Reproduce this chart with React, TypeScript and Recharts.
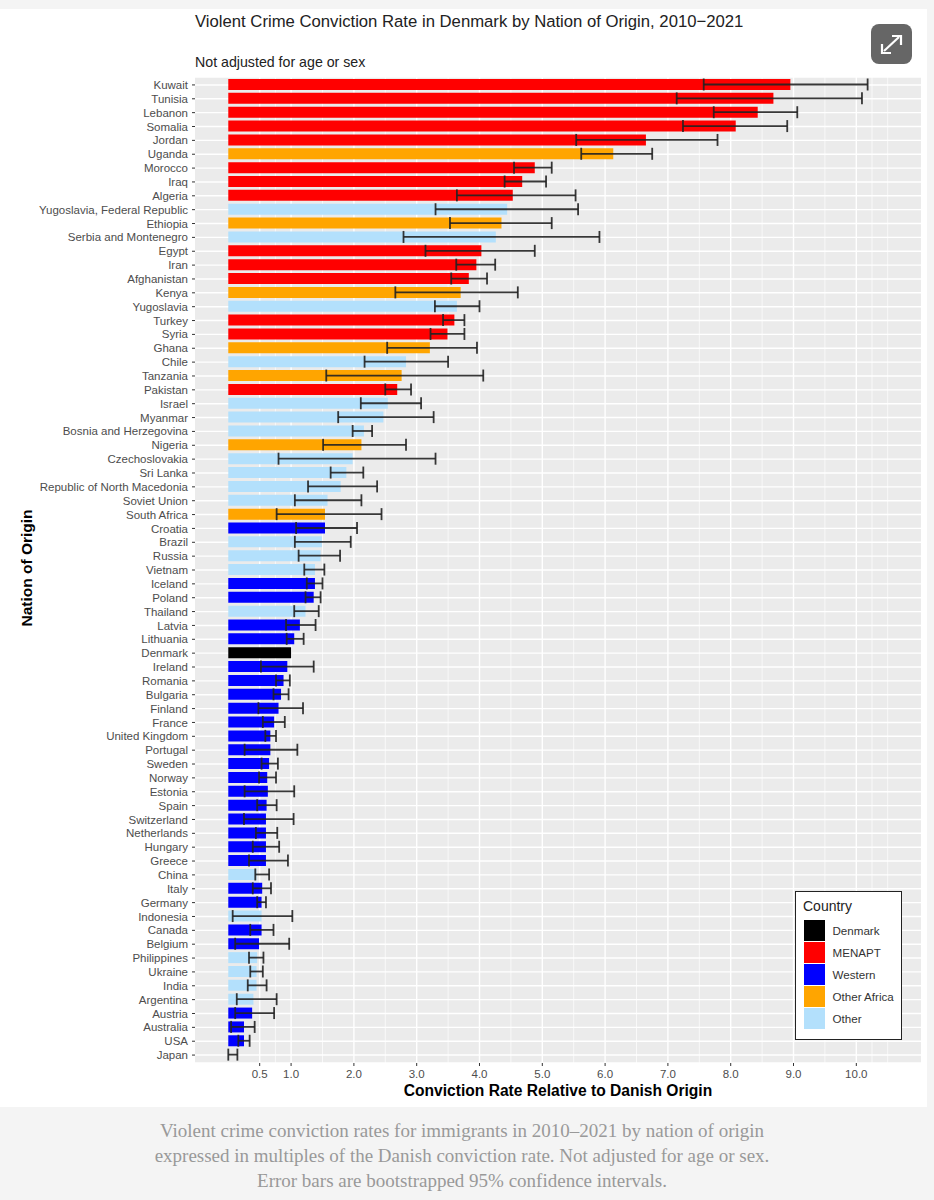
import { Bar, BarChart, CartesianGrid, Cell, ErrorBar, XAxis, YAxis } from "recharts";

const M = "MENAPT";
const W = "Western";
const A = "Other Africa";
const O = "Other";
const D = "Denmark";

const nations = [
  "Kuwait", "Tunisia", "Lebanon", "Somalia", "Jordan", "Uganda", "Morocco", "Iraq", "Algeria",
  "Yugoslavia, Federal Republic", "Ethiopia", "Serbia and Montenegro", "Egypt", "Iran", "Afghanistan",
  "Kenya", "Yugoslavia", "Turkey", "Syria", "Ghana", "Chile", "Tanzania", "Pakistan", "Israel", "Myanmar",
  "Bosnia and Herzegovina", "Nigeria", "Czechoslovakia", "Sri Lanka", "Republic of North Macedonia",
  "Soviet Union", "South Africa", "Croatia", "Brazil", "Russia", "Vietnam", "Iceland", "Poland", "Thailand",
  "Latvia", "Lithuania", "Denmark", "Ireland", "Romania", "Bulgaria", "Finland", "France", "United Kingdom",
  "Portugal", "Sweden", "Norway", "Estonia", "Spain", "Switzerland", "Netherlands", "Hungary", "Greece",
  "China", "Italy", "Germany", "Indonesia", "Canada", "Belgium", "Philippines", "Ukraine", "India",
  "Argentina", "Austria", "Australia", "USA", "Japan",
];

const groups = [
  M, M, M, M, M, A, M, M, M,
  O, A, O, M, M, M,
  A, O, M, M, A, O, A, M, O, O,
  O, A, O, O, O,
  O, A, W, O, O, O, W, W, O,
  W, W, D, W, W, W, W, W, W,
  W, W, W, W, W, W, W, W, W,
  O, W, W, O, W, W, O, O, O,
  O, W, W, W, O,
];

const rates = [
  8.95, 8.68, 8.43, 8.08, 6.65, 6.13, 4.88, 4.68, 4.53,
  4.44, 4.35, 4.26, 4.03, 3.95, 3.83,
  3.70, 3.64, 3.60, 3.49, 3.21, 2.83, 2.76, 2.69, 2.54, 2.47,
  2.16, 2.12, 1.98, 1.88, 1.79,
  1.58, 1.54, 1.54, 1.49, 1.47, 1.38, 1.38, 1.36, 1.23,
  1.14, 1.05, 1.0, 0.94, 0.88, 0.84, 0.80, 0.73, 0.67,
  0.67, 0.65, 0.62, 0.63, 0.61, 0.60, 0.60, 0.60, 0.60,
  0.45, 0.54, 0.53, 0.53, 0.53, 0.49, 0.46, 0.45, 0.45,
  0.40, 0.38, 0.25, 0.25, 0.01,
];

const lows = [
  7.57, 7.14, 7.73, 7.24, 5.54, 5.62, 4.55, 4.40, 3.64,
  3.30, 3.53, 2.79, 3.14, 3.63, 3.55,
  2.66, 3.29, 3.42, 3.22, 2.53, 2.17, 1.56, 2.50, 2.11, 1.75,
  1.98, 1.51, 0.80, 1.63, 1.27,
  1.06, 0.77, 1.08, 1.06, 1.12, 1.21, 1.25, 1.23, 1.05,
  0.92, 0.93, null, 0.52, 0.76, 0.72, 0.48, 0.55, 0.59,
  0.26, 0.53, 0.49, 0.26, 0.46, 0.25, 0.44, 0.39, 0.33,
  0.43, 0.39, 0.46, 0.07, 0.35, 0.11, 0.33, 0.35, 0.31,
  0.135, 0.11, 0.045, 0.16, 0,
];

const highs = [
  10.18, 10.09, 9.06, 8.90, 7.79, 6.75, 5.15, 5.06, 5.53,
  5.57, 5.15, 5.91, 4.88, 4.25, 4.12,
  4.61, 4.00, 3.76, 3.76, 3.96, 3.50, 4.06, 2.91, 3.07, 3.27,
  2.29, 2.83, 3.30, 2.15, 2.37,
  2.12, 2.44, 2.05, 1.95, 1.78, 1.53, 1.50, 1.47, 1.44,
  1.39, 1.20, null, 1.36, 0.98, 0.96, 1.19, 0.90, 0.76,
  1.10, 0.79, 0.76, 1.05, 0.77, 1.04, 0.78, 0.81, 0.95,
  0.65, 0.68, 0.60, 1.02, 0.72, 0.97, 0.56, 0.55, 0.61,
  0.77, 0.73, 0.42, 0.34, 0.145,
];

const xTicks = [0.5, 1, 2, 3, 4, 5, 6, 7, 8, 9, 10];
const xMinor = [0.75, 1.5, 2.5, 3.5, 4.5, 5.5, 6.5, 7.5, 8.5, 9.5, 10.25, 10.5];

const legendOrder = [D, M, W, A, O];
const colors: Record<string, string> = {
  [D]: "#000000",
  [M]: "#FF0000",
  [W]: "#0000FF",
  [A]: "#FFA500",
  [O]: "#B3E0FC",
};

const captionLines = [
  "Violent crime conviction rates for immigrants in 2010\u20132021 by nation of origin",
  "expressed in multiples of the Danish conviction rate. Not adjusted for age or sex.",
  "Error bars are bootstrapped 95% confidence intervals.",
];

const data = nations.map((nation, i) => ({
  nation,
  group: groups[i],
  rate: rates[i],
  low: lows[i],
  high: highs[i],
}));

const errorRange = (d: any) => (d.low == null ? null : [d.rate - d.low, d.high - d.rate]);

const sans = "'Liberation Sans', Arial, sans-serif";

const CountryLegend = () => (
  <div
    style={{
      position: "absolute",
      left: 795,
      top: 891,
      width: 104.5,
      height: 146.5,
      border: "1.5px solid #222",
      background: "#fff",
      fontFamily: sans,
    }}
  >
    <div style={{ position: "absolute", left: 7, top: 6, fontSize: 14, color: "#222" }}>Country</div>
    {legendOrder.map((g, i) => (
      <div key={g} style={{ position: "absolute", left: 7.5, top: 28 + i * 22, height: 21, width: 95 }}>
        <div style={{ position: "absolute", left: 0, top: 0, width: 21, height: 21, background: colors[g] }} />
        <div style={{ position: "absolute", left: 29, top: 4, fontSize: 11.6, color: "#333", whiteSpace: "nowrap" }}>{g}</div>
      </div>
    ))}
  </div>
);

const ExpandButton = () => (
  <svg width={41} height={40} style={{ position: "absolute", left: 871, top: 24 }}>
    <rect width={41} height={40} rx={8} fill="#666666" />
    <g stroke="#fff" strokeWidth={2.2} fill="none">
      <path d="M13 27 L28 13" />
      <path d="M21 12 L30 12 L30 21" />
      <path d="M11 20 L11 29 L20 29" />
    </g>
  </svg>
);

export default function App() {
  return (
    <div style={{ position: "absolute", left: 0, top: 0, width: 934, height: 1200, background: "#F4F4F4", overflow: "hidden" }}>
      <div style={{ position: "absolute", left: 0, top: 9, width: 927, height: 1098, background: "#fff" }} />
      <div style={{ position: "absolute", left: 195, top: 12, fontFamily: sans, fontSize: 16.7, color: "#222", whiteSpace: "nowrap" }}>
        Violent Crime Conviction Rate in Denmark by Nation of Origin, 2010{"\u2212"}2021
      </div>
      <div style={{ position: "absolute", left: 195, top: 54, fontFamily: sans, fontSize: 14.2, color: "#222", whiteSpace: "nowrap" }}>
        Not adjusted for age or sex
      </div>
      <div style={{ position: "absolute", left: 0, top: 0 }}>
        <BarChart
          width={934}
          height={1107}
          data={data}
          layout="vertical"
          margin={{ top: 77, right: 13, left: 0, bottom: 0 }}
        >
          <CartesianGrid fill="#EBEBEB" stroke="#fff" strokeWidth={1.4} verticalValues={xTicks} />
          <CartesianGrid fill="none" stroke="#fff" strokeWidth={0.7} horizontal={false} verticalValues={xMinor} />
          <XAxis
            type="number"
            domain={[-0.53, 11.03]}
            allowDataOverflow
            ticks={xTicks}
            interval={0}
            tickFormatter={(v: number) => v.toFixed(1)}
            tickSize={3}
            tickMargin={4}
            axisLine={false}
            tickLine={{ stroke: "#333" }}
            tick={{ fontSize: 11.5, fill: "#4D4D4D", fontFamily: sans }}
            height={44}
            label={{
              value: "Conviction Rate Relative to Danish Origin",
              position: "insideBottom",
              offset: 11,
              dx: 0,
              style: { fontSize: 15.6, fontWeight: 700, fill: "#000", fontFamily: sans },
            }}
          />
          <YAxis
            type="category"
            dataKey="nation"
            width={195}
            interval={0}
            tickSize={3}
            tickMargin={4}
            axisLine={false}
            tickLine={{ stroke: "#333" }}
            tick={{ fontSize: 11.5, fill: "#4D4D4D", fontFamily: sans }}
            padding={{ top: 1, bottom: 1 }}
            label={{
              value: "Nation of Origin",
              angle: -90,
              position: "insideLeft",
              offset: 26,
              dy: -2,
              style: { fontSize: 15.5, fontWeight: 700, fill: "#000", fontFamily: sans, textAnchor: "middle" },
            }}
          />
          <Bar dataKey="rate" barSize={11} isAnimationActive={false}>
            {data.map((d) => (
              <Cell key={d.nation} fill={colors[d.group]} />
            ))}
            <ErrorBar dataKey={errorRange} direction="x" width={6} stroke="#222" strokeOpacity={0.9} strokeWidth={1.8} isAnimationActive={false} />
          </Bar>
        </BarChart>
      </div>
      <CountryLegend />
      <ExpandButton />
      <div
        style={{
          position: "absolute",
          left: 0,
          top: 1118,
          width: 924,
          textAlign: "center",
          fontFamily: "'Liberation Serif', serif",
          fontSize: 19,
          lineHeight: "25px",
          color: "#999",
        }}
      >
        {captionLines.map((line) => (
          <div key={line}>{line}</div>
        ))}
      </div>
    </div>
  );
}
